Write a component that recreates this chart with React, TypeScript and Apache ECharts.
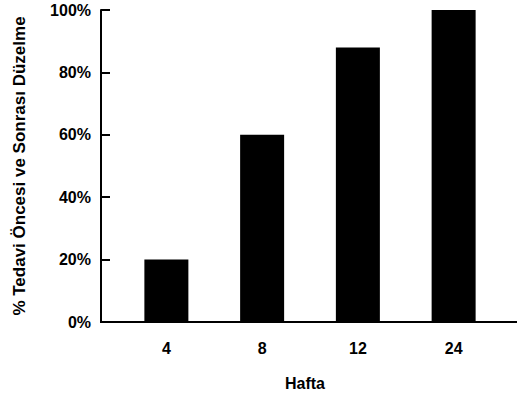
import React, { useEffect, useRef } from "react";
import * as echarts from "echarts";

const categories = ["4", "8", "12", "24"];
const values = [20, 60, 88, 100];
const yTicks = [0, 20, 40, 60, 80, 100];

export default function App() {
  const ref = useRef<HTMLDivElement>(null);
  useEffect(() => {
    const chart = echarts.init(ref.current!, null, { renderer: "svg" });
    const font = "'Liberation Sans', Arial, sans-serif";
    chart.setOption({
      animation: false,
      backgroundColor: "#ffffff",
      grid: { left: 118.5, right: 16.5, top: 10, bottom: 76, containLabel: false },
      xAxis: {
        type: "category",
        data: categories,
        axisLine: { show: true, lineStyle: { color: "#000", width: 2 } },
        axisTick: { show: false },
        axisLabel: { color: "#000", fontSize: 16, fontWeight: "bold", fontFamily: font, margin: 18 },
        name: "Hafta",
        nameLocation: "middle",
        nameGap: 53,
        nameTextStyle: { color: "#000", fontSize: 16, fontWeight: "bold", fontFamily: font, padding: [0, 10, 0, 0] },
      },
      yAxis: {
        type: "value",
        min: yTicks[0],
        max: yTicks[yTicks.length - 1],
        interval: 20,
        offset: 17.5,
        axisLine: { show: true, lineStyle: { color: "#000", width: 2 } },
        axisTick: { show: true, inside: true, length: 9, lineStyle: { color: "#000", width: 2 } },
        splitLine: { show: false },
        axisLabel: {
          color: "#000",
          fontSize: 16,
          fontWeight: "bold",
          fontFamily: font,
          margin: 10,
          formatter: (v: number) => v + "%",
        },
        name: "% Tedavi Öncesi ve Sonrası Düzelme",
        nameLocation: "middle",
        nameGap: 73,
        nameTextStyle: { color: "#000", fontSize: 17, fontWeight: "bold", fontFamily: font },
      },
      series: [
        {
          type: "bar",
          data: values,
          barWidth: 44,
          itemStyle: { color: "#000" },
        },
      ],
      graphic: [
        { type: "line", shape: { x1: 100, y1: 322, x2: 119, y2: 322 }, style: { stroke: "#000", lineWidth: 2 } },
        { type: "line", shape: { x1: 501, y1: 322, x2: 517, y2: 322 }, style: { stroke: "#000", lineWidth: 2 } },
      ],
    });
    return () => chart.dispose();
  }, []);
  return <div ref={ref} style={{ width: 518, height: 398, position: "absolute", left: 0, top: 0 }} />;
}
